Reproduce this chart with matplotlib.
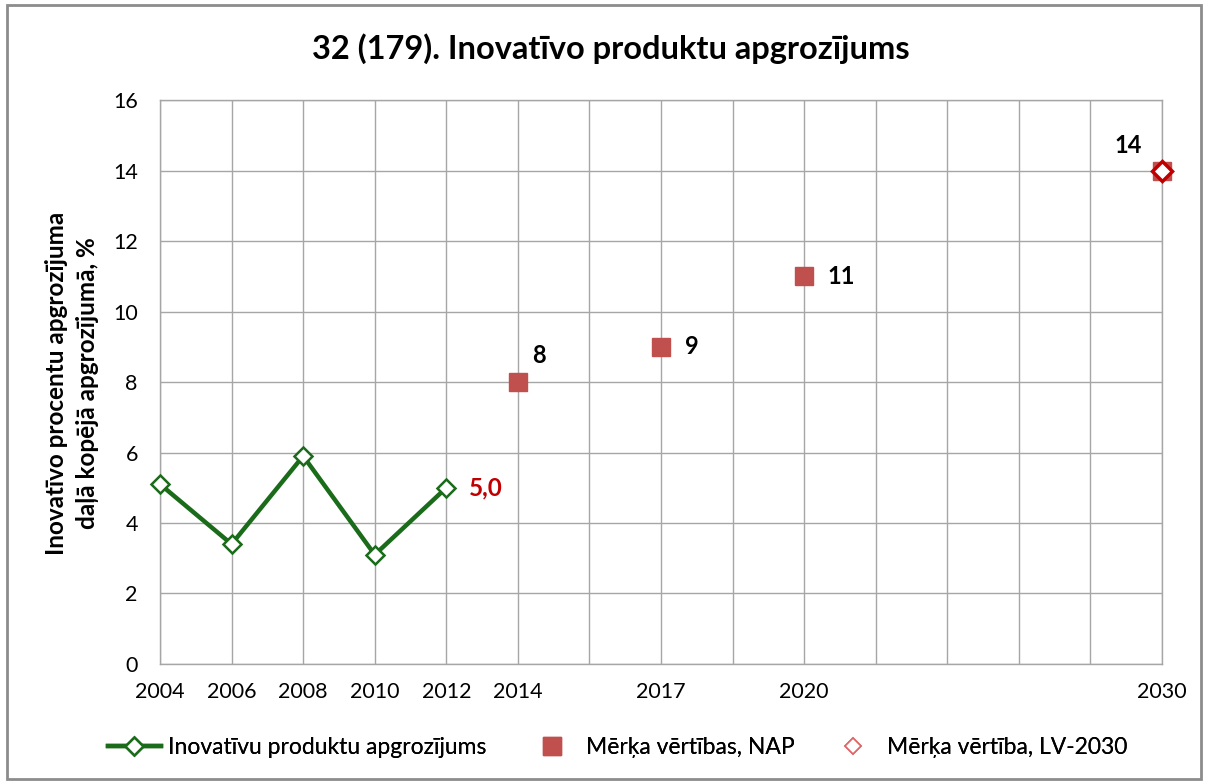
import matplotlib
matplotlib.use('Agg')
import matplotlib.pyplot as plt
from matplotlib.patches import Rectangle

plt.rcParams['font.family'] = ['Lato', 'DejaVu Sans']

# category slots on the x axis (empty ones are just spacing)
categories = ['2004', '2006', '2008', '2010', '2012', '2014', '', '2017', '', '2020',
              '', '', '', '', '2030']
hist_years = ['2004', '2006', '2008', '2010', '2012']
hist_values = [5.1, 3.4, 5.9, 3.1, 5.0]
nap_years = ['2014', '2017', '2020', '2030']
nap_values = [8, 9, 11, 14]
lv_years = ['2030']
lv_values = [14]

title = '32 (179). Inovatīvo produktu apgrozījums'
ylabel = 'Inovatīvo procentu apgrozījuma\ndaļā kopējā apgrozījumā, %'

green = '#1A6B1A'
nap_red = '#C0504D'
dark_red = '#C00000'
grid_c = '#A6A6A6'

fig = plt.figure(figsize=(12.06, 7.82), dpi=100)
ax = fig.add_axes([0.1327, 0.1509, 0.8308, 0.7212])

hx = [categories.index(y) for y in hist_years]
nx = [categories.index(y) for y in nap_years]
lx = [categories.index(y) for y in lv_years]

l1, = ax.plot(hx, hist_values, color=green, lw=3.2, marker='D', markersize=9.5,
              markerfacecolor='white', markeredgecolor=green, markeredgewidth=1.8,
              clip_on=False, zorder=4, label='Inovatīvu produktu apgrozījums')
l2, = ax.plot(nx, nap_values, ls='none', marker='s', markersize=13, color=nap_red,
              clip_on=False, zorder=4, label='Mērķa vērtības, NAP')
ax.plot(lx, lv_values, ls='none', marker='D', markersize=10,
        markerfacecolor='white', markeredgecolor=dark_red, markeredgewidth=2.5,
        clip_on=False, zorder=5)
# legend entry for LV-2030 has a thinner edge
l3, = ax.plot([], [], ls='none', marker='D', markersize=8, markerfacecolor='white',
              markeredgecolor='#E06666', markeredgewidth=1.2, label='Mērķa vērtība, LV-2030')

# data labels
ax.annotate(f'{hist_values[-1]:.1f}'.replace('.', ','), (hx[-1], hist_values[-1]),
            xytext=(16, 0), textcoords='offset points', va='center', ha='left',
            fontsize=17.5, fontweight='bold', color=dark_red)
nap_offsets = [(15, 19), (17, 0), (17, 0), (-24, 18)]
nap_ha = ['center', 'left', 'left', 'center']
for x, v, off, h in zip(nx, nap_values, nap_offsets, nap_ha):
    ax.annotate(str(v), (x, v), xytext=off, textcoords='offset points',
                va='center', ha=h, fontsize=17, fontweight='bold', color='black')

ax.set_xlim(0, len(categories) - 1)
ax.set_ylim(0, 16)
ax.set_yticks(range(0, 17, 2))
ax.set_xticks(range(len(categories)))
ax.set_xticklabels(categories)
ax.tick_params(axis='both', length=0, labelsize=15.5, colors='black')
ax.tick_params(axis='x', pad=13)
ax.tick_params(axis='y', pad=16)
ax.grid(True, color=grid_c, lw=1)
ax.set_axisbelow(True)
for s in ax.spines.values():
    s.set_color(grid_c)
    s.set_linewidth(1)

fig.text(0.0597, 0.5102, ylabel, rotation=90, ha='center', va='center',
         multialignment='center', fontsize=17.5, fontweight='bold', linespacing=1.4)
fig.text(0.5066, 0.938, title, ha='center', va='center', fontsize=23.5, fontweight='bold')

# three legend entries placed like the original (uneven spacing)
leg_x = [0.0896, 0.4362, 0.6857]
for h, x in zip([l1, l2, l3], leg_x):
    lg = fig.legend([h], [h.get_label()], loc='center left', bbox_to_anchor=(x, 0.0435),
                    frameon=False, fontsize=16.5, handlelength=2.3, handletextpad=0.3,
                    borderpad=0, borderaxespad=0)
    fig.add_artist(lg)

# outer chart frame
fig.patches.append(Rectangle((0.006, 0.004), 0.99, 0.99, transform=fig.transFigure,
                             fill=False, edgecolor='#8C8C8C', lw=2))

fig.savefig('out.png', dpi=100)
